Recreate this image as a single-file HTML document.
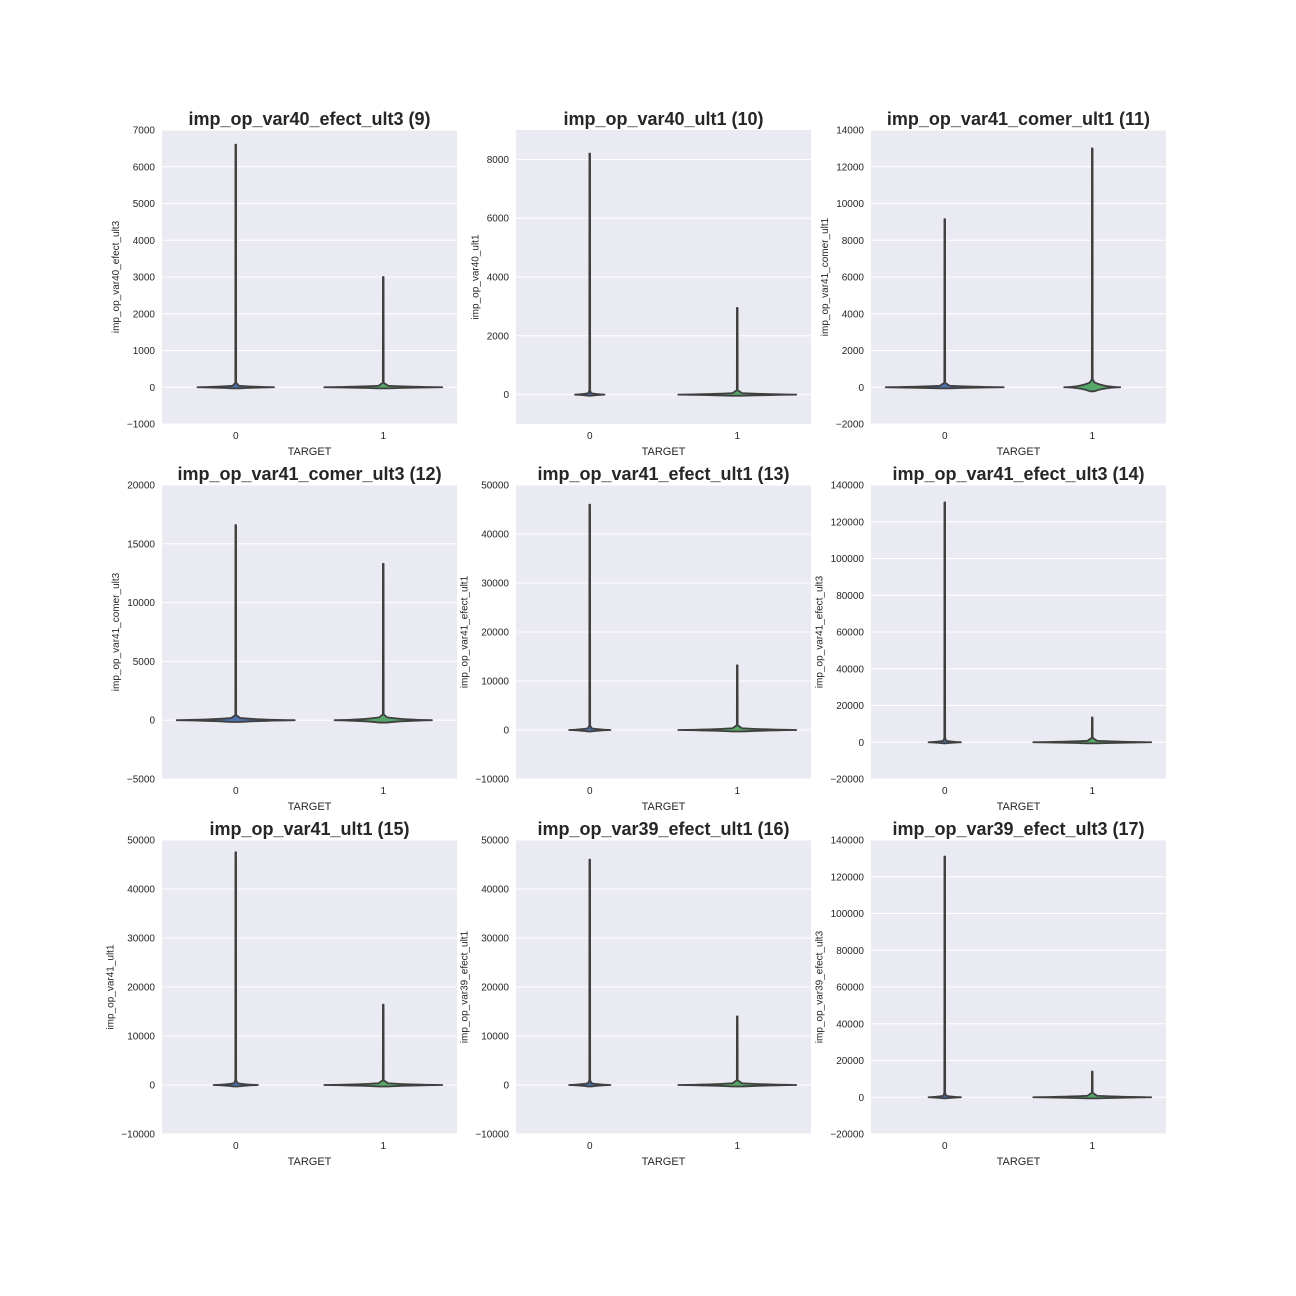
<!DOCTYPE html>
<html><head><meta charset="utf-8"><style>
body{margin:0;background:#fff;}
svg{display:block;font-family:"Liberation Sans",Arial,sans-serif;}
</style></head><body>
<svg id="chart" width="1296" height="1296" viewBox="0 0 1296 1296"></svg>
<script>
const titles=["imp_op_var40_efect_ult3 (9)","imp_op_var40_ult1 (10)","imp_op_var41_comer_ult1 (11)","imp_op_var41_comer_ult3 (12)","imp_op_var41_efect_ult1 (13)","imp_op_var41_efect_ult3 (14)","imp_op_var41_ult1 (15)","imp_op_var39_efect_ult1 (16)","imp_op_var39_efect_ult3 (17)"];
const ylabels=["imp_op_var40_efect_ult3","imp_op_var40_ult1","imp_op_var41_comer_ult1","imp_op_var41_comer_ult3","imp_op_var41_efect_ult1","imp_op_var41_efect_ult3","imp_op_var41_ult1","imp_op_var39_efect_ult1","imp_op_var39_efect_ult3"];
const yMin=[-1000,-1000,-2000,-5000,-10000,-20000,-10000,-10000,-20000];
const yMax=[7000,9000,14000,20000,50000,140000,50000,50000,140000];
const yStep=[1000,2000,2000,5000,10000,20000,10000,10000,20000];
const tickStart=[-1000,0,-2000,-5000,-10000,-20000,-10000,-10000,-20000];
const tickEnd=[7000,8000,14000,20000,50000,140000,50000,50000,140000];
const categories=["0","1"];
const max0=[6600,8200,9150,16600,46000,130500,47500,46000,131000];
const max1=[3000,2950,13000,13300,13200,13500,16400,14000,14000];
const width0=[0.26,0.1,0.4,0.4,0.14,0.11,0.15,0.14,0.11];
const width1=[0.4,0.4,0.19,0.33,0.4,0.4,0.4,0.4,0.4];
const spread0=[30,40,60,150,300,600,300,300,600];
const spread1=[30,40,220,200,300,600,300,300,600];
const colors=["#4c72b0","#55a868"];
const svg=document.getElementById('chart');
const NS="http://www.w3.org/2000/svg";
function mk(tag,attrs,parent){const e=document.createElementNS(NS,tag);for(const k in attrs)e.setAttribute(k,attrs[k]);(parent||svg).appendChild(e);return e;}
const lefts=[162,516,871],tops=[130,485,840],W=295,H=294;
function fmt(v){return v<0?"\u2212"+(-v):String(v);}
for(let p=0;p<9;p++){
  const L=lefts[p%3],T=tops[Math.floor(p/3)];
  const g=mk('g',{});
  
  
  const ys=v=>T+H-(v-yMin[p])/(yMax[p]-yMin[p])*H;
  const xs=c=>L+W*(c+0.5)/2;
  const bg=mk('rect',{x:L,y:T,width:W,height:H,fill:'#eaeaf2'},g);
  
  let maxw=0;
  for(let v=tickStart[p];v<=tickEnd[p];v+=yStep[p]){
    const y=ys(v);
    mk('line',{x1:L,x2:L+W,y1:y,y2:y,stroke:'#fff','stroke-width':1},g);
    const t=mk('text',{x:L-7,y:y+3.5,'text-anchor':'end','font-size':10,fill:'#262626'},g);
    t.textContent=fmt(v);
    
    maxw=Math.max(maxw,fmt(v).length*5.6);
  }
  const yl=L-7-maxw-8;
  const ylab=mk('text',{x:yl,y:T+H/2,'text-anchor':'middle','font-size':10,fill:'#262626',transform:`rotate(-90 ${yl} ${T+H/2})`},g);
  ylab.textContent=ylabels[p];
  
  const tt=mk('text',{x:L+W/2,y:T-5,'text-anchor':'middle','font-size':18,'font-weight':'bold',fill:'#262626'},g);
  tt.textContent=titles[p];
  
  const xt=mk('text',{x:L+W/2,y:T+H+31,'text-anchor':'middle','font-size':11,fill:'#262626'},g);
  xt.textContent="TARGET";
  
  const maxs=[max0[p],max1[p]],wid=[width0[p],width1[p]],spr=[spread0[p],spread1[p]];
  for(let c=0;c<2;c++){
    const cx=xs(c);
    const lb=mk('text',{x:cx,y:T+H+15,'text-anchor':'middle','font-size':10,fill:'#262626'},g);
    lb.textContent=categories[c];
    
    const hw=wid[c]*W/2;
    const y0=ys(0),yt=ys(maxs[c]),yb=ys(-spr[c]),yh=ys(spr[c]*1.2);
    const yb2=Math.max(yb,y0+1),yh2=Math.min(yh,y0-1.5);
    const d=`M${cx-0.3},${yt} L${cx+0.3},${yt} L${cx+0.4},${yh2-3} L${cx+hw*0.08},${yh2} Q${cx+hw*0.4},${y0-0.5} ${cx+hw},${y0} Q${cx+hw*0.4},${y0+0.5} ${cx+hw*0.08},${yb2} L${cx-hw*0.08},${yb2} Q${cx-hw*0.4},${y0+0.5} ${cx-hw},${y0} Q${cx-hw*0.4},${y0-0.5} ${cx-hw*0.08},${yh2} L${cx-0.4},${yh2-3} Z`;
    const v=mk('path',{d:d,fill:colors[c],stroke:'#3f3f3f','stroke-width':1.8,'stroke-linejoin':'round'},g);
    
  }
}
</script>
</body></html>
